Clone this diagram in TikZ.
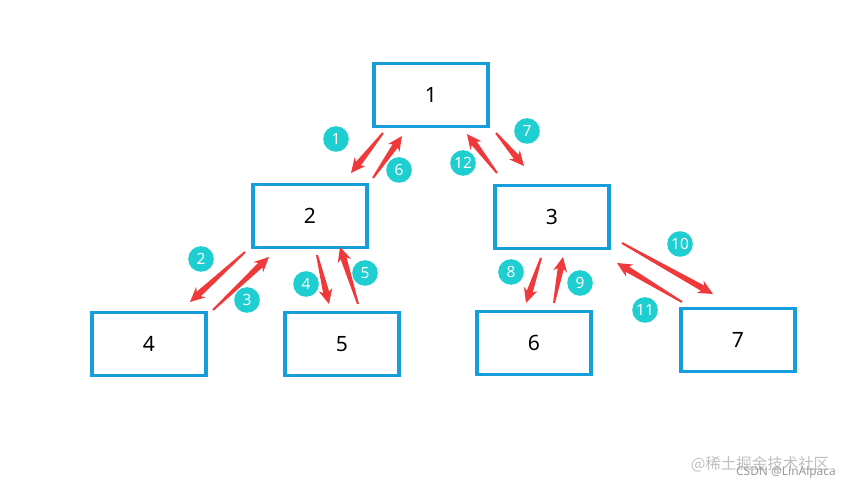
\documentclass[tikz,border=0pt]{standalone}
\usepackage{fontspec}
\setmainfont{Noto Sans}
\newfontfamily\cjk{Noto Sans CJK SC}
\usetikzlibrary{calc}
\definecolor{boxblue}{RGB}{22,158,218}
\definecolor{stepred}{RGB}{240,57,59}
\definecolor{steppin}{RGB}{30,206,208}

\begin{document}
\begin{tikzpicture}[x=0.025cm,y=-0.025cm,
		treebox/.style={draw=boxblue,line width=2.2pt,minimum width=2.85cm,minimum height=1.57cm,inner sep=0pt,font=\fontsize{15}{18}\selectfont},
		stepnum/.style={circle,fill=steppin,text=white,minimum size=0.64cm,inner sep=0pt,font=\fontsize{11}{13}\selectfont}]
		\useasboundingbox (0,0) rectangle (860,490);
		% tree nodes
		\node[treebox] (n1) at (431,95) {1};
		\node[treebox] (n2) at (310,216) {2};
		\node[treebox] (n3) at (552,217) {3};
		\node[treebox] (n4) at (149,344) {4};
		\node[treebox] (n5) at (342,344) {5};
		\node[treebox] (n6) at (534,343) {6};
		\node[treebox] (n7) at (738,340) {7};
		% arrow ends
		\coordinate (a1) at (383,133); \coordinate (b1) at (351,173);
		\coordinate (a2) at (245,252); \coordinate (b2) at (190,302);
		\coordinate (a3) at (213,310); \coordinate (b3) at (269,257);
		\coordinate (a4) at (317,255); \coordinate (b4) at (329,304);
		\coordinate (a5) at (358,304); \coordinate (b5) at (340,247);
		\coordinate (a6) at (373,178); \coordinate (b6) at (402,136);
		\coordinate (a7) at (496,133); \coordinate (b7) at (524,166);
		\coordinate (a8) at (541,258); \coordinate (b8) at (526,303);
		\coordinate (a9) at (554,303); \coordinate (b9) at (563,257);
		\coordinate (a10) at (622,243); \coordinate (b10) at (713,294);
		\coordinate (a11) at (682,302); \coordinate (b11) at (617,263);
		\coordinate (a12) at (497,173); \coordinate (b12) at (467,134);
		% tapered red arrows
		\foreach \i in {1,...,12}{
			\coordinate (h\i) at ($(b\i)!8.5pt!(a\i)$);
			\coordinate (w\i) at ($(b\i)!10.5pt!(a\i)$);
			\fill[stepred] ($(a\i)!0.7pt!90:(b\i)$) -- ($(h\i)!2.2pt!90:(b\i)$)
				-- ($(w\i)!5pt!90:(b\i)$) -- (b\i) -- ($(w\i)!5pt!-90:(b\i)$)
				-- ($(h\i)!2.2pt!-90:(b\i)$) -- ($(a\i)!0.7pt!-90:(b\i)$) -- cycle;
		}
		% step numbers
		\node[stepnum] (s1) at (336,139) {1};
		\node[stepnum] (s2) at (201,259) {2};
		\node[stepnum] (s3) at (247,300) {3};
		\node[stepnum] (s4) at (306,284) {4};
		\node[stepnum] (s5) at (365,273) {5};
		\node[stepnum] (s6) at (399,170) {6};
		\node[stepnum] (s7) at (527,131) {7};
		\node[stepnum] (s8) at (511,272) {8};
		\node[stepnum] (s9) at (580,283) {9};
		\node[stepnum] (s10) at (680,244) {10};
		\node[stepnum] (s11) at (645,310) {11};
		\node[stepnum] (s12) at (463,163) {12};
		% watermark
		\node[text=black!25,font=\cjk\fontsize{11}{13}\selectfont] (wm1) at (760,464) {@稀土掘金技术社区};
		\node[text=black!40,font=\fontsize{8.5}{10}\selectfont] (wm2) at (786,472) {CSDN @LinAlpaca};
\end{tikzpicture}
\end{document}
